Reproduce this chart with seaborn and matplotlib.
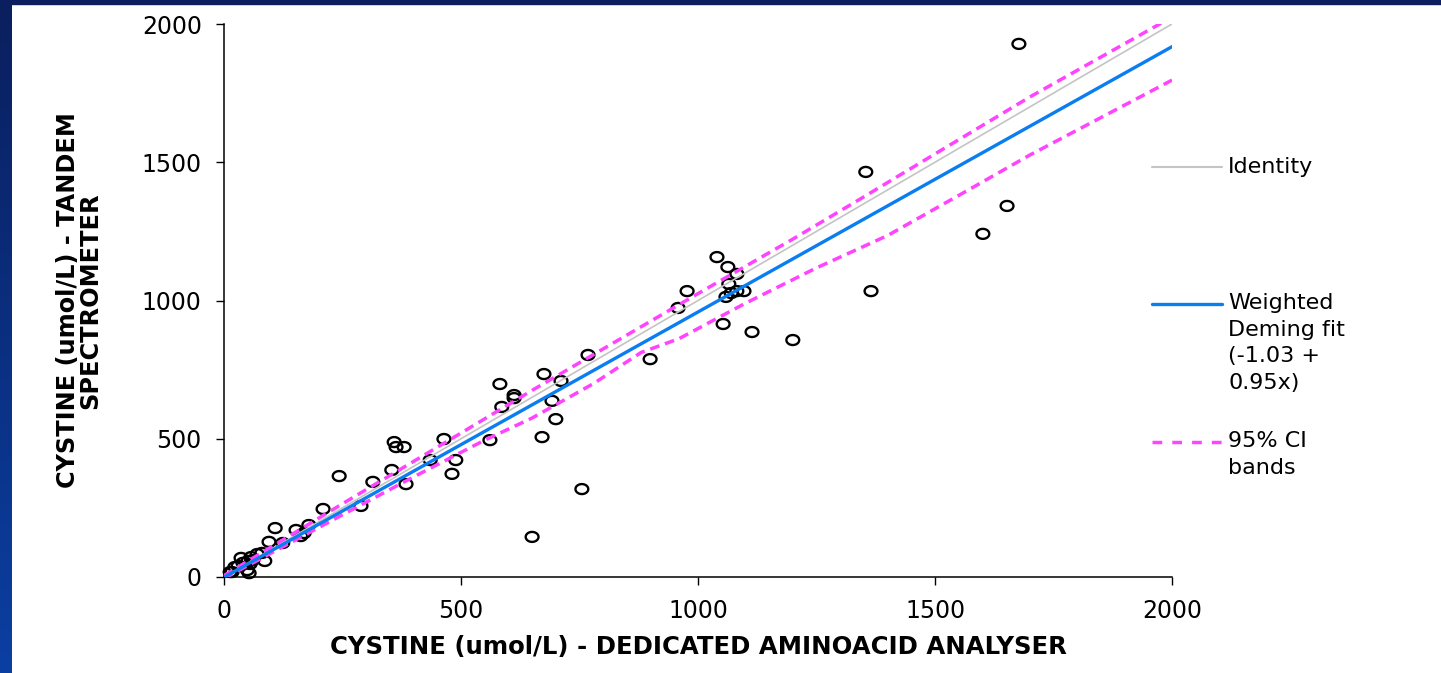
import numpy as np
import pandas as pd
import matplotlib
matplotlib.use("Agg")
import matplotlib.pyplot as plt
import seaborn as sns
from matplotlib.path import Path
from matplotlib.lines import Line2D
from matplotlib.patches import Rectangle
from matplotlib.colors import LinearSegmentedColormap

# ---------------- data ----------------
analyser_x = [1677, 1354, 1652, 1601, 1365, 1040, 1063, 1082, 1065, 977,
              1097, 1082, 1070, 1059, 958, 1053, 1114, 1200, 899, 768,
              675, 582, 711, 612, 612, 586, 692, 700, 561, 671,
              755, 650, 464, 359, 363, 380, 435, 489, 481, 354,
              243, 314, 384, 289, 209, 108, 152, 179, 169, 162,
              95, 124, 80, 86, 57, 51, 55, 40, 23, 17,
              53, 61, 70, 49, 30, 13, 36]
tandem_y = [1928, 1465, 1342, 1241, 1034, 1157, 1121, 1096, 1060, 1034,
            1034, 1034, 1027, 1013, 973, 915, 886, 857, 788, 803,
            734, 698, 709, 658, 647, 615, 637, 571, 495, 506,
            318, 145, 499, 488, 470, 470, 423, 423, 373, 387,
            365, 344, 336, 257, 246, 177, 170, 188, 159, 148,
            127, 123, 87, 58, 72, 58, 47, 51, 36, 18,
            14, 61, 83, 25, 40, 18, 69]

identity_x = [0, 2000]
identity_y = [0, 2000]
fit_x = [0, 2000]
fit_y = [-1.03, 1918]
upper_x = [0, 250, 400, 550, 650, 800, 900, 1000, 1200, 1350, 1500, 1700, 2000]
upper_y = [5, 265, 418, 572, 675, 825, 925, 1025, 1222, 1375, 1530, 1736, 2025]
lower_x = [0, 250, 400, 550, 650, 780, 880, 960, 1100, 1250, 1400, 1550, 1700, 2000]
lower_y = [-5, 225, 362, 495, 575, 700, 812, 862, 990, 1118, 1235, 1380, 1526, 1797]

x_ticks = [0, 500, 1000, 1500, 2000]
y_ticks = [0, 500, 1000, 1500, 2000]
legend_labels = ["Identity", "Weighted\nDeming fit\n(-1.03 +\n0.95x)", "95% CI\nbands"]
x_title = "CYSTINE (umol/L) - DEDICATED AMINOACID ANALYSER"
y_title = "CYSTINE (umol/L) - TANDEM\nSPECTROMETER"

# ---------------- style ----------------
sns.set_theme(style="white")
plt.rcParams['font.family'] = ['DejaVu Sans']

W, H = 1441, 673
fig = plt.figure(figsize=(W / 100, H / 100), dpi=100)
fig.patch.set_facecolor("white")

def fx(px):
    return px / W

def fy(py):
    return 1 - py / H

ax = fig.add_axes([fx(224), fy(577), (1172 - 224) / W, (577 - 24) / H])
ax.set_facecolor("white")

GRAY = "#c4c4c4"
BLUE = "#0a7df0"
MAGENTA = "#ff44ff"
DASH = (0, (2.8, 1.7))

# ellipse marker
t = np.linspace(0, 2 * np.pi, 60)
ell = Path(np.column_stack([np.cos(t), 0.78 * np.sin(t)]), closed=True)

pts = pd.DataFrame({"x": analyser_x, "y": tandem_y})
sns.scatterplot(data=pts, x="x", y="y", ax=ax, marker=ell, s=85,
                facecolor="none", edgecolor="black", linewidth=1.7,
                clip_on=False, zorder=2, legend=False)

sns.lineplot(x=identity_x, y=identity_y, ax=ax, color=GRAY, lw=1.2,
             sort=False, estimator=None, zorder=3)
sns.lineplot(x=upper_x, y=upper_y, ax=ax, color=MAGENTA, lw=2.5,
             linestyle=DASH, sort=False, estimator=None, zorder=3)
sns.lineplot(x=lower_x, y=lower_y, ax=ax, color=MAGENTA, lw=2.5,
             linestyle=DASH, sort=False, estimator=None, zorder=3)
sns.lineplot(x=fit_x, y=fit_y, ax=ax, color=BLUE, lw=2.4,
             sort=False, estimator=None, zorder=4)

ax.set_xlim(0, 2000)
ax.set_ylim(0, 2000)
ax.set_xticks(x_ticks)
ax.set_yticks(y_ticks)
ax.set_xticklabels([str(v) for v in x_ticks])
ax.set_yticklabels([str(v) for v in y_ticks])
ax.grid(False)
sns.despine(ax=ax)
for s in ["left", "bottom"]:
    ax.spines[s].set_color("black")
    ax.spines[s].set_linewidth(1.1)
ax.tick_params(axis="both", direction="out", length=6, width=1.0,
               colors="black", labelsize=17, pad=10,
               left=True, bottom=True)

ax.set_xlabel(x_title, fontsize=17.6, fontweight="bold", color="black")
ax.set_ylabel(y_title, fontsize=17.3, fontweight="bold", color="black",
              linespacing=0.92)
ax.xaxis.set_label_coords(0.5, -(635 - 577) / 553)
ax.yaxis.set_label_coords(-(224 - 102) / 948, 0.5)

# ---------------- legend (Excel style, handle at first line) ----------------
def leg_line(y_px, **kw):
    fig.add_artist(Line2D([fx(1152), fx(1222)], [fy(y_px), fy(y_px)],
                          transform=fig.transFigure, **kw))

leg_line(167, color=GRAY, lw=1.5)
leg_line(304, color=BLUE, lw=2.4)
leg_line(442, color=MAGENTA, lw=2.5, linestyle=(0, (2.8, 2.9)))
leg_tops = [157, 293, 431]
for lab, top in zip(legend_labels, leg_tops):
    fig.text(fx(1228), fy(top), lab, ha="left", va="top", fontsize=16,
             color="black", linespacing=1.42)

# ---------------- slide frame ----------------
cmap = LinearSegmentedColormap.from_list("frame", ["#0b1f5e", "#0a3fa2"])
bax = fig.add_axes([0, 0, fx(12), 1])
bax.imshow(np.linspace(0, 1, 256).reshape(-1, 1), aspect="auto", cmap=cmap)
bax.axis("off")
fig.add_artist(Rectangle((0, fy(4)), 1, 4 / H, transform=fig.transFigure,
                         color="#0b1f5e", zorder=10))

fig.savefig("out.png", dpi=100, facecolor="white")
